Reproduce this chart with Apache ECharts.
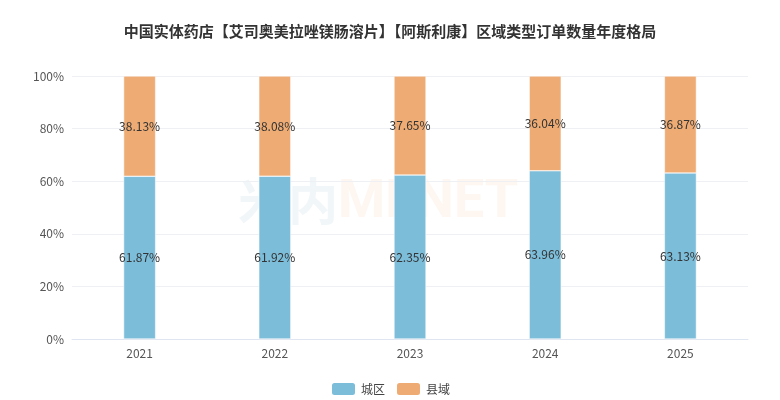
<!DOCTYPE html>
<html><head><meta charset="utf-8">
<script src="https://cdn.jsdelivr.net/npm/echarts@6/dist/echarts.min.js"></script>
<style>html,body{margin:0;padding:0;background:#fff}#c{width:780px;height:400px}</style>
</head><body><div id="c"></div>
<script>
var years = ['2021','2022','2023','2024','2025'];
var urban = [61.87, 61.92, 62.35, 63.96, 63.13];
var county = [38.13, 38.08, 37.65, 36.04, 36.87];
var seriesNames = ['城区','县域'];
var chart = echarts.init(document.getElementById('c'));
var lbl = {show:true, position:'inside', color:'#333', fontSize:12, formatter:function(p){return p.value.toFixed(2)+'%';}};
chart.setOption({
  animation:false,
  textStyle:{fontFamily:'"Noto Sans CJK SC", "Noto Sans", sans-serif'},
  title:{text:'中国实体药店【艾司奥美拉唑镁肠溶片】【阿斯利康】区域类型订单数量年度格局', left:'center', top:19,
    textStyle:{fontSize:15, fontWeight:'bold', color:'#333'}},
  graphic:[
    {type:'text', left:238, top:176, style:{text:'米内', font:'bold 50px "Noto Sans CJK SC"', fill:'rgba(200,220,230,0.25)'}},
    {type:'text', left:338, top:176, style:{text:'MENET', font:'bold 54px Roboto', fill:'rgba(250,200,160,0.16)'}}
  ],
  legend:{bottom:-2, itemWidth:25, itemHeight:14, itemGap:10, textStyle:{color:'#444',fontSize:12}, data:seriesNames},
  grid:{left:72, right:32, top:76, bottom:61},
  xAxis:{type:'category', data:years, axisTick:{show:false}, axisLine:{lineStyle:{color:'#e0e6f1'}},
    axisLabel:{color:'#555', fontSize:12, margin:8}},
  yAxis:{type:'value', min:0, max:100, interval:20, axisLabel:{formatter:'{value}%', color:'#555', fontSize:12},
    splitLine:{lineStyle:{color:'#eef0f4'}}},
  series:[
    {name:seriesNames[0], type:'bar', stack:'a', barWidth:32, data:urban, itemStyle:{color:'#7cbdda', borderColor:'#fff', borderWidth:0.5}, label:lbl},
    {name:seriesNames[1], type:'bar', stack:'a', barWidth:32, data:county, itemStyle:{color:'#eeac74', borderColor:'#fff', borderWidth:0.5}, label:lbl}
  ]
});
</script></body></html>
